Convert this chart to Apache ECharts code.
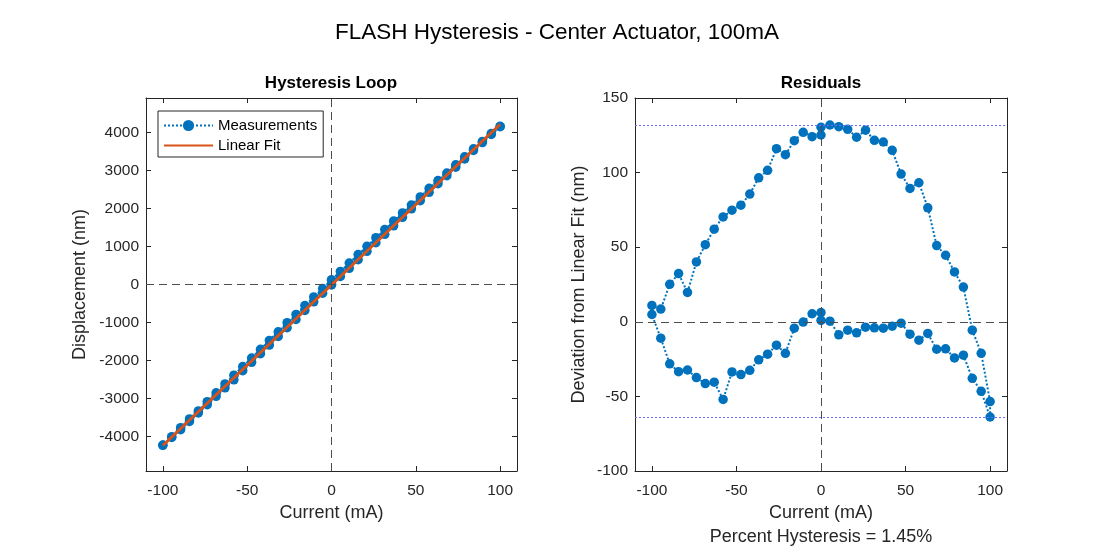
<!DOCTYPE html>
<html>
<head>
<meta charset="utf-8">
<title>FLASH Hysteresis</title>
<script src="https://cdn.jsdelivr.net/npm/echarts@6/dist/echarts.min.js"></script>
<style>
    html, body { margin: 0; padding: 0; background: #ffffff; }
    #chart { width: 1114px; height: 548px; }
</style>
</head>
<body>
<div id="chart"></div>
<script>
// sweep order: 0 -> 100 -> 0 -> -100 -> 0 (mA)
const current = [
    0, 5.26, 10.53, 15.79, 21.05, 26.32, 31.58, 36.84, 42.11, 47.37,
    52.63, 57.89, 63.16, 68.42, 73.68, 78.95, 84.21, 89.47, 94.74, 100,
    100, 94.74, 89.47, 84.21, 78.95, 73.68, 68.42, 63.16, 57.89, 52.63,
    47.37, 42.11, 36.84, 31.58, 26.32, 21.05, 15.79, 10.53, 5.26, 0,
    0, -5.26, -10.53, -15.79, -21.05, -26.32, -31.58, -36.84, -42.11, -47.37,
    -52.63, -57.89, -63.16, -68.42, -73.68, -78.95, -84.21, -89.47, -94.74, -100,
    -100, -94.74, -89.47, -84.21, -78.95, -73.68, -68.42, -63.16, -57.89, -52.63,
    -47.37, -42.11, -36.84, -31.58, -26.32, -21.05, -15.79, -10.53, -5.26, 0
];

// measured displacement (nm)
const displacement = [
    -9.1, 212.5, 425.5, 650.7, 871.0, 1096.9, 1318.6, 1540.4, 1763.9, 1988.0,
    2202.8, 2420.9, 2647.5, 2859.0, 3081.4, 3297.4, 3521.3, 3727.9, 3941.3, 4146.2,
    4156.5, 3966.8, 3760.2, 3567.0, 3355.0, 3144.1, 2928.5, 2731.7, 2526.4, 2300.5,
    2087.9, 1881.7, 1665.2, 1444.2, 1228.9, 1002.1, 785.3, 565.0, 344.0, 120.4,
    115.2, -108.0, -327.2, -554.9, -786.4, -1004.5, -1241.1, -1468.2, -1701.2, -1930.7,
    -2156.3, -2382.9, -2613.2, -2845.7, -3079.4, -3321.9, -3531.4, -3760.7, -3999.4, -4219.0,
    -4225.1, -4018.9, -3814.0, -3597.1, -3373.9, -3156.9, -2938.8, -2715.8, -2505.2, -2264.7,
    -2044.3, -1819.3, -1590.2, -1364.3, -1136.2, -919.5, -680.6, -454.4, -226.7, -3.8
];

// deviation from linear fit (nm)
const residual = [
    0.9, 0.4, -8.7, -5.6, -7.4, -3.6, -4.0, -4.3, -2.9, -0.9,
    -8.3, -12.3, -7.8, -18.4, -18.1, -24.2, -22.4, -37.9, -46.6, -63.8,
    -53.5, -21.1, -5.6, 23.3, 33.4, 44.6, 51.1, 76.4, 93.2, 89.4,
    99.0, 114.9, 120.5, 121.6, 128.4, 123.7, 129.0, 130.8, 131.9, 130.4,
    125.2, 124.1, 127.0, 121.4, 112.0, 116.0, 101.5, 96.5, 85.6, 78.2,
    74.8, 70.3, 62.1, 51.7, 40.1, 19.7, 32.3, 25.1, 8.5, 11.0,
    4.9, -11.0, -28.2, -33.4, -32.3, -37.4, -41.4, -40.5, -52.0, -33.6,
    -35.4, -32.5, -25.5, -21.7, -15.7, -21.1, -4.3, -0.2, 5.4, 6.2
];

const fitCurrent = [-100, 100];
const fitDisplacement = [-4230, 4210];

const currentTicks = [-100, -50, 0, 50, 100];
const displacementTicks = [-4000, -3000, -2000, -1000, 0, 1000, 2000, 3000, 4000];
const residualTicks = [-100, -50, 0, 50, 100, 150];

const FONT = "'Liberation Sans', Arial, sans-serif";
const AXIS_COLOR = "#262626";
const BLUE = "#0072BD";
const ORANGE = "#D95319";

function pairs(xs, ys) {
    return xs.map((x, i) => [x, ys[i]]);
}

function boxAxis(extra, labelMargin) {
    return Object.assign({
        type: "value",
        axisLine: { show: true, onZero: false, lineStyle: { color: AXIS_COLOR, width: 1 } },
        axisTick: { show: true, inside: true, length: 5, lineStyle: { color: AXIS_COLOR } },
        axisLabel: {
            color: AXIS_COLOR,
            fontSize: 15.5,
            fontFamily: FONT,
            margin: labelMargin || 8,
            formatter: (v) => String(v),
        },
        splitLine: { show: false },
        nameLocation: "middle",
        nameTextStyle: { color: AXIS_COLOR, fontSize: 18, fontFamily: FONT },
    }, extra);
}

function ticksOn(axis, values, labels) {
    axis.axisTick.customValues = values;
    if (labels) {
        axis.axisLabel.customValues = values;
    } else {
        axis.axisLabel.show = false;
    }
    return axis;
}

function zeroLines() {
    return {
        silent: true,
        symbol: "none",
        label: { show: false },
        lineStyle: { color: "#4d4d4d", type: [8, 5], width: 1 },
        data: [{ xAxis: 0 }, { yAxis: 0 }],
    };
}

const maxResidual = Math.max(...residual);
const minResidual = Math.min(...residual);

const xAxes = [
    ticksOn(boxAxis({ gridIndex: 0, min: -110, max: 110, name: "Current (mA)", nameGap: 31 }, 12), currentTicks, true),
    ticksOn(boxAxis({ gridIndex: 0, min: -110, max: 110, position: "top" }), currentTicks, false),
    ticksOn(boxAxis({ gridIndex: 1, min: -110, max: 110, name: "Current (mA)", nameGap: 31 }, 12), currentTicks, true),
    ticksOn(boxAxis({ gridIndex: 1, min: -110, max: 110, position: "top" }), currentTicks, false),
];

const yAxes = [
    ticksOn(boxAxis({ gridIndex: 0, min: -4900, max: 4900, name: "Displacement (nm)", nameGap: 57 }, 7), displacementTicks, true),
    ticksOn(boxAxis({ gridIndex: 0, min: -4900, max: 4900, position: "right" }), displacementTicks, false),
    ticksOn(boxAxis({ gridIndex: 1, min: -100, max: 150, name: "Deviation from Linear Fit (nm)", nameGap: 47 }, 7), residualTicks, true),
    ticksOn(boxAxis({ gridIndex: 1, min: -100, max: 150, position: "right" }), residualTicks, false),
];

const option = {
    backgroundColor: "#ffffff",
    animation: false,
    title: {
        text: "FLASH Hysteresis - Center Actuator, 100mA",
        left: "center",
        top: 16,
        textStyle: { color: "#000000", fontSize: 22.5, fontWeight: "normal", fontFamily: FONT },
    },
    graphic: [
        {
            type: "text", x: 331, y: 75,
            style: { text: "Hysteresis Loop", align: "center", fill: "#000", font: "bold 17px " + FONT },
        },
        {
            type: "text", x: 821, y: 75,
            style: { text: "Residuals", align: "center", fill: "#000", font: "bold 17px " + FONT },
        },
        {
            type: "text", x: 821, y: 528,
            style: { text: "Percent Hysteresis = 1.45%", align: "center", fill: AXIS_COLOR, font: "18px " + FONT },
        },
    ],
    legend: {
        data: [
            { name: "Measurements" },
            { name: "Linear Fit", itemStyle: { opacity: 0 } },
        ],
        orient: "vertical",
        left: 158,
        top: 111,
        backgroundColor: "#ffffff",
        borderColor: AXIS_COLOR,
        borderWidth: 1,
        borderRadius: 0,
        padding: [7, 6, 4, 5],
        itemWidth: 49,
        itemHeight: 14,
        itemGap: 5,
        textStyle: { color: "#000", fontSize: 15, fontFamily: FONT },
    },
    grid: [
        { left: 146, top: 98, width: 371, height: 373 },
        { left: 635, top: 98, width: 372, height: 373 },
    ],
    xAxis: xAxes,
    yAxis: yAxes,
    series: [
        {
            name: "Measurements",
            type: "line",
            xAxisIndex: 0,
            yAxisIndex: 0,
            data: pairs(current, displacement),
            symbol: "circle",
            symbolSize: 9.5,
            itemStyle: { color: BLUE },
            lineStyle: { color: BLUE, width: 2, type: "dotted" },
            markLine: zeroLines(),
            z: 3,
        },
        {
            name: "Linear Fit",
            type: "line",
            xAxisIndex: 0,
            yAxisIndex: 0,
            data: pairs(fitCurrent, fitDisplacement),
            symbol: "none",
            itemStyle: { color: ORANGE },
            lineStyle: { color: ORANGE, width: 3 },
            z: 4,
        },
        {
            name: "Residuals",
            type: "line",
            xAxisIndex: 2,
            yAxisIndex: 2,
            data: pairs(current, residual),
            symbol: "circle",
            symbolSize: 9.5,
            itemStyle: { color: BLUE },
            lineStyle: { color: BLUE, width: 2, type: "dotted" },
            markLine: {
                silent: true,
                symbol: "none",
                label: { show: false },
                data: [
                    { xAxis: 0, lineStyle: { color: "#4d4d4d", type: [8, 5], width: 1 } },
                    { yAxis: 0, lineStyle: { color: "#4d4d4d", type: [8, 5], width: 1 } },
                    { yAxis: maxResidual, lineStyle: { color: "#6b6bff", type: [2, 2], width: 1 } },
                    { yAxis: minResidual, lineStyle: { color: "#6b6bff", type: [2, 2], width: 1 } },
                ],
            },
            z: 3,
        },
    ],
};

const chart = echarts.init(document.getElementById("chart"));
chart.setOption(option);
</script>
</body>
</html>
